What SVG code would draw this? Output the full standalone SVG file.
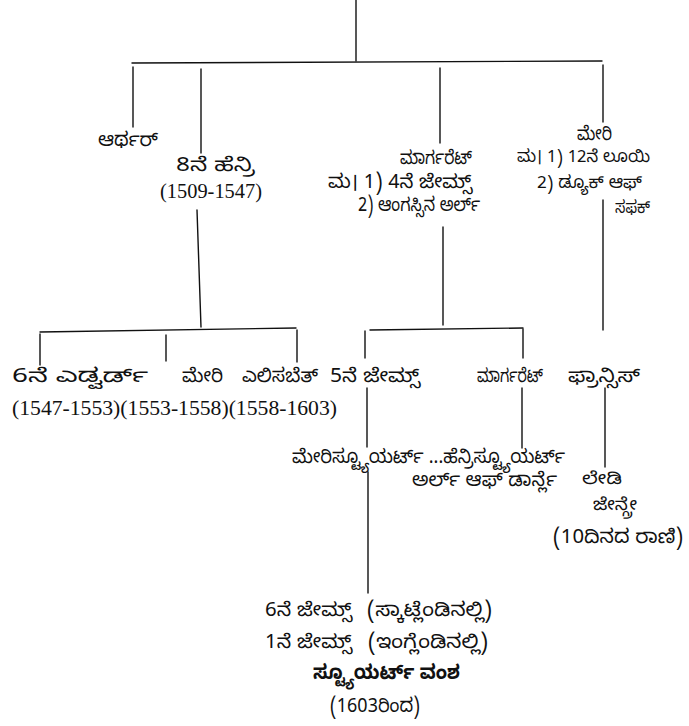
<svg xmlns="http://www.w3.org/2000/svg" width="689" height="726" viewBox="0 0 689 726">
<style>
  .ln { stroke: #111; stroke-width: 1.4; fill: none; stroke-linecap: round; }
  text { font-family: "Noto Sans Kannada", "Noto Serif Kannada", "Liberation Serif", serif; font-size: 19px; fill: #111; }
  .num { font-family: "Liberation Serif", "Noto Serif Kannada", "Noto Sans Kannada", serif; font-size: 20px; }
  .bold { font-weight: bold; font-size: 20px; }
  .sm { font-size: 17px; }
</style>
<rect width="689" height="726" fill="#fff"/>
<g id="connectors">
  <path class="ln" d="M356,0 V61"/>
  <path class="ln" d="M132,63 L602,61"/>
  <path class="ln" d="M133,67 V127"/>
  <path class="ln" d="M201,69 V153"/>
  <path class="ln" d="M440,68 V143"/>
  <path class="ln" d="M603,65 V122"/>
  <path class="ln" d="M197,210 L201,327"/>
  <path class="ln" d="M40,332 L296,328"/>
  <path class="ln" d="M40,334 V365"/>
  <path class="ln" d="M166,335 V361"/>
  <path class="ln" d="M297,330 V362"/>
  <path class="ln" d="M443,227 V325"/>
  <path class="ln" d="M370,330 L523,328"/>
  <path class="ln" d="M365,331 V358"/>
  <path class="ln" d="M523,329 V358"/>
  <path class="ln" d="M603,200 V330"/>
  <path class="ln" d="M367,388 V447"/>
  <path class="ln" d="M522,388 V448"/>
  <path class="ln" d="M605,388 V467"/>
  <path class="ln" d="M368,472 V593"/>
</g>
<g id="arthur"><text x="98" y="146" textLength="60" lengthAdjust="spacingAndGlyphs">ಆರ್ಥರ್</text></g>
<g id="henry8">
  <text x="176" y="171" textLength="79" lengthAdjust="spacingAndGlyphs">8ನೆ ಹೆನ್ರಿ</text>
  <text class="num" x="160" y="198" textLength="102" lengthAdjust="spacingAndGlyphs">(1509-1547)</text>
</g>
<g id="margaret">
  <text x="400" y="164" textLength="72" lengthAdjust="spacingAndGlyphs">ಮಾರ್ಗರೆಟ್</text>
  <text x="328" y="188" textLength="144" lengthAdjust="spacingAndGlyphs">ಮ। 1) 4ನೆ ಜೇಮ್ಸ್</text>
  <text x="358" y="211" textLength="122" lengthAdjust="spacingAndGlyphs">2) ಆಂಗಸ್ಸಿನ ಅರ್ಲ್</text>
</g>
<g id="mary">
  <text x="577" y="140" textLength="35" lengthAdjust="spacingAndGlyphs">ಮೇರಿ</text>
  <text class="sm" x="517" y="162" textLength="133" lengthAdjust="spacingAndGlyphs">ಮ। 1) 12ನೆ ಲೂಯಿ</text>
  <text class="sm" x="537" y="188" textLength="105" lengthAdjust="spacingAndGlyphs">2) ಡ್ಯೂಕ್ ಆಫ್</text>
  <text class="sm" x="615" y="213" textLength="35" lengthAdjust="spacingAndGlyphs">ಸಫಕ್</text>
</g>
<g id="edward6"><text x="12" y="382" textLength="136" lengthAdjust="spacingAndGlyphs">6ನೆ ಎಡ್ವರ್ಡ್</text></g>
<g id="mary1"><text x="182" y="382" textLength="41" lengthAdjust="spacingAndGlyphs">ಮೇರಿ</text></g>
<g id="elizabeth"><text x="242" y="382" textLength="76" lengthAdjust="spacingAndGlyphs">ಎಲಿಸಬೆತ್</text></g>
<g id="reigns"><text class="num" x="12" y="415" textLength="325" lengthAdjust="spacingAndGlyphs">(1547-1553)(1553-1558)(1558-1603)</text></g>
<g id="james5"><text x="330" y="382" textLength="90" lengthAdjust="spacingAndGlyphs">5ನೆ ಜೇಮ್ಸ್</text></g>
<g id="margaret2"><text x="477" y="382" textLength="66" lengthAdjust="spacingAndGlyphs">ಮಾರ್ಗರೆಟ್</text></g>
<g id="frances"><text x="568" y="382" textLength="72" lengthAdjust="spacingAndGlyphs">ಫ್ರಾನ್ಸಿಸ್</text></g>
<g id="marystuart">
  <text x="292" y="463" textLength="273" lengthAdjust="spacingAndGlyphs">ಮೇರಿಸ್ಟ್ಯೂಯರ್ಟ್ ...ಹೆನ್ರಿಸ್ಟ್ಯೂಯರ್ಟ್</text>
  <text x="412" y="486" textLength="145" lengthAdjust="spacingAndGlyphs">ಅರ್ಲ್ ಆಫ್ ಡಾರ್ನ್ಲೆ</text>
</g>
<g id="janegrey">
  <text class="sm" x="582" y="484" textLength="40" lengthAdjust="spacingAndGlyphs">ಲೇಡಿ</text>
  <text class="sm" x="593" y="510" textLength="44" lengthAdjust="spacingAndGlyphs">ಜೇನ್ಗ್ರೇ</text>
  <text x="553" y="543" textLength="130" lengthAdjust="spacingAndGlyphs">(10ದಿನದ ರಾಣಿ)</text>
</g>
<g id="james6">
  <text y="616"><tspan x="265" textLength="87" lengthAdjust="spacingAndGlyphs">6ನೆ ಜೇಮ್ಸ್</tspan><tspan x="367" textLength="125" lengthAdjust="spacingAndGlyphs">(ಸ್ಕಾಟ್ಲೆಂಡಿನಲ್ಲಿ)</tspan></text>
  <text y="648"><tspan x="265" textLength="87" lengthAdjust="spacingAndGlyphs">1ನೆ ಜೇಮ್ಸ್</tspan><tspan x="368" textLength="120" lengthAdjust="spacingAndGlyphs">(ಇಂಗ್ಲೆಂಡಿನಲ್ಲಿ)</tspan></text>
  <text class="bold" x="313" y="679" textLength="147" lengthAdjust="spacingAndGlyphs">ಸ್ಟ್ಯೂಯರ್ಟ್ ವಂಶ</text>
  <text x="330" y="712" textLength="90" lengthAdjust="spacingAndGlyphs">(1603ರಿಂದ)</text>
</g>
</svg>
